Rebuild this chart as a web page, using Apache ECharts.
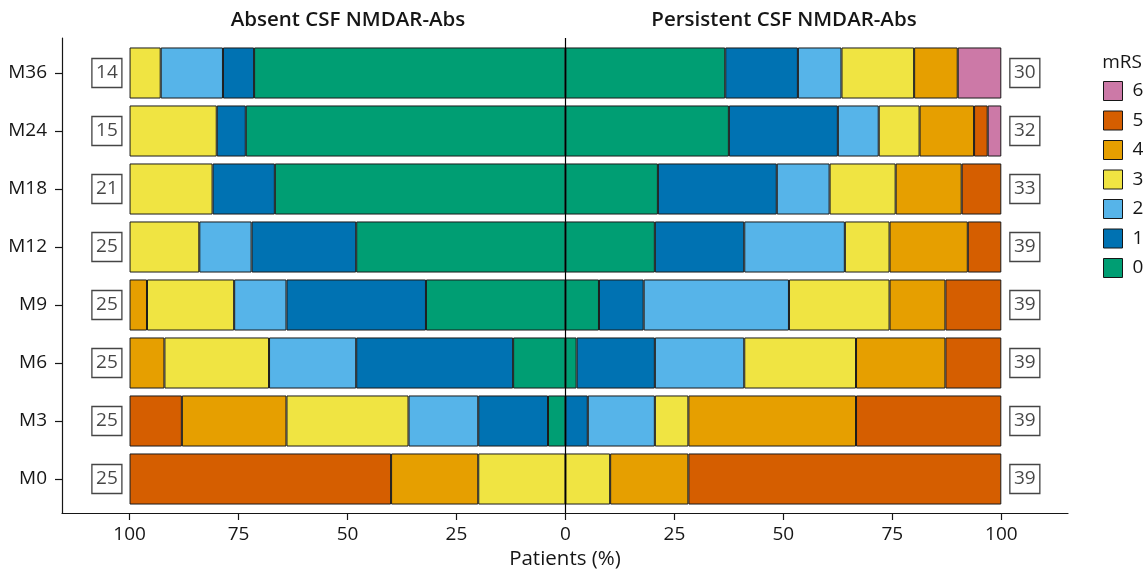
<!DOCTYPE html>
<html><head><meta charset="utf-8">
<script src="https://cdn.jsdelivr.net/npm/echarts@6/dist/echarts.min.js"></script>
<style>html,body{margin:0;padding:0;background:#fff}#c{width:1148px;height:570px}</style>
</head><body><div id="c"></div>
<script>
// Timepoints, bottom to top
const timepoints = ['M0','M3','M6','M9','M12','M18','M24','M36'];
const mrsLevels = ['0','1','2','3','4','5','6'];
const mrsColors = ['#009E73','#0072B2','#56B4E9','#F0E442','#E69F00','#D55E00','#CC79A7'];
const xTicks = [-100,-75,-50,-25,0,25,50,75,100];
const groupTitles = ['Absent CSF NMDAR-Abs','Persistent CSF NMDAR-Abs'];

// Patient counts per mRS level (Absent CSF NMDAR-Abs), order M0..M36
const absent_mRS0 = [0, 1, 3, 8, 12, 14, 11, 10];
const absent_mRS1 = [0, 4, 9, 8, 6, 3, 1, 1];
const absent_mRS2 = [0, 4, 5, 3, 3, 0, 0, 2];
const absent_mRS3 = [5, 7, 6, 5, 4, 4, 3, 1];
const absent_mRS4 = [5, 6, 2, 1, 0, 0, 0, 0];
const absent_mRS5 = [15, 3, 0, 0, 0, 0, 0, 0];
const absent_mRS6 = [0, 0, 0, 0, 0, 0, 0, 0];

// Patient counts per mRS level (Persistent CSF NMDAR-Abs), order M0..M36
const persistent_mRS0 = [0, 0, 1, 3, 8, 7, 12, 11];
const persistent_mRS1 = [0, 2, 7, 4, 8, 9, 8, 5];
const persistent_mRS2 = [0, 6, 8, 13, 9, 4, 3, 3];
const persistent_mRS3 = [4, 3, 10, 9, 4, 5, 3, 5];
const persistent_mRS4 = [7, 15, 8, 5, 7, 5, 4, 3];
const persistent_mRS5 = [28, 13, 5, 5, 3, 3, 1, 0];
const persistent_mRS6 = [0, 0, 0, 0, 0, 0, 1, 3];

const absentCounts = [absent_mRS0, absent_mRS1, absent_mRS2, absent_mRS3, absent_mRS4, absent_mRS5, absent_mRS6];
const persistentCounts = [persistent_mRS0, persistent_mRS1, persistent_mRS2, persistent_mRS3, persistent_mRS4, persistent_mRS5, persistent_mRS6];

const totals = arr => timepoints.map((t, i) => arr.reduce((s, a) => s + a[i], 0));
const absentN = totals(absentCounts);
const persistentN = totals(persistentCounts);

const XMIN = -115.5, XMAX = 115.3;
const FONT = '"Open Sans", "Noto Sans", sans-serif';
const INK = '#161616';

const series = [];
mrsLevels.forEach((lvl, k) => {
  const common = {
    type: 'bar', name: lvl, stack: 'total', xAxisIndex: 0, yAxisIndex: 0,
    barWidth: '88%',
    itemStyle: { color: mrsColors[k], borderColor: '#1a1a1a', borderWidth: 1 },
    emphasis: { disabled: true }
  };
  series.push(Object.assign({}, common, {
    data: absentCounts[k].map((c, i) => c ? -100 * c / absentN[i] : null)
  }));
  series.push(Object.assign({}, common, {
    data: persistentCounts[k].map((c, i) => c ? 100 * c / persistentN[i] : null)
  }));
});

const boxStyle = {
  type: 'scatter', xAxisIndex: 0, yAxisIndex: 0, symbol: 'rect', symbolSize: [30, 29],
  itemStyle: { color: '#fff', borderColor: INK, borderWidth: 1.3 },
  label: { show: true, position: 'inside', formatter: p => p.value[2], fontSize: 19, color: INK, fontFamily: FONT },
  emphasis: { disabled: true }, z: 5
};
series.push(Object.assign({}, boxStyle, { data: timepoints.map((t, i) => [-105.2, t, absentN[i]]) }));
series.push(Object.assign({}, boxStyle, { data: timepoints.map((t, i) => [105.4, t, persistentN[i]]) }));

// zero reference line in the frame grid
series.push({
  type: 'line', xAxisIndex: 1, yAxisIndex: 1, data: [], z: 10, silent: true,
  markLine: { silent: true, symbol: ['none', 'none'], label: { show: false },
    lineStyle: { color: '#000', width: 1.2, type: 'solid' }, data: [{ xAxis: 0 }] }
});

const chart = echarts.init(document.getElementById('c'), null, { renderer: 'canvas' });
chart.setOption({
  animation: false,
  backgroundColor: '#fff',
  textStyle: { fontFamily: FONT, color: INK },
  grid: [
    { left: 62, right: 80, top: 44, bottom: 62, outerBoundsMode: 'none', containLabel: false },
    { left: 62, right: 80, top: 38, bottom: 57, outerBoundsMode: 'none', containLabel: false }
  ],
  xAxis: [
    { gridIndex: 0, type: 'value', min: XMIN, max: XMAX, show: false },
    { gridIndex: 1, type: 'value', min: XMIN, max: XMAX,
      axisLine: { show: true, onZero: false, lineStyle: { color: INK, width: 1.2 } },
      axisTick: { show: true, length: 7, customValues: xTicks, lineStyle: { color: INK, width: 1.2 } },
      axisLabel: { customValues: xTicks, formatter: v => Math.abs(v), fontSize: 19, color: INK, margin: 12, fontFamily: FONT },
      splitLine: { show: false },
      name: 'Patients (%)', nameLocation: 'middle', nameGap: 36,
      nameTextStyle: { fontSize: 20.5, color: INK, fontFamily: FONT } }
  ],
  yAxis: [
    { gridIndex: 0, type: 'category', data: timepoints,
      axisLine: { show: false, onZero: false },
      axisTick: { show: true, length: 7, alignWithLabel: true, lineStyle: { color: INK, width: 1.2 } },
      axisLabel: { fontSize: 19, color: INK, margin: 15, fontFamily: FONT } },
    { gridIndex: 1, type: 'value', min: 0, max: 1,
      axisLine: { show: true, onZero: false, lineStyle: { color: INK, width: 1.2 } },
      axisTick: { show: false }, axisLabel: { show: false }, splitLine: { show: false } }
  ],
  legend: {
    data: mrsLevels.slice().reverse(), orient: 'vertical', left: 1103, top: 81, padding: 0,
    itemWidth: 19, itemHeight: 19, itemGap: 9.5, icon: 'rect',
    itemStyle: { borderColor: INK, borderWidth: 1 },
    textStyle: { fontSize: 19, color: INK, fontFamily: FONT, padding: [0, 0, 0, 5] },
    selectedMode: false
  },
  graphic: [
    { type: 'text', x: 348, y: 20, style: { text: groupTitles[0], align: 'center', verticalAlign: 'middle', font: '600 20.5px ' + FONT, fill: INK } },
    { type: 'text', x: 784, y: 20, style: { text: groupTitles[1], align: 'center', verticalAlign: 'middle', font: '600 20.5px ' + FONT, fill: INK } },
    { type: 'text', x: 1122, y: 63, style: { text: 'mRS', align: 'center', verticalAlign: 'middle', font: '19px ' + FONT, fill: INK } }
  ],
  series: series
});
</script>
</body></html>
